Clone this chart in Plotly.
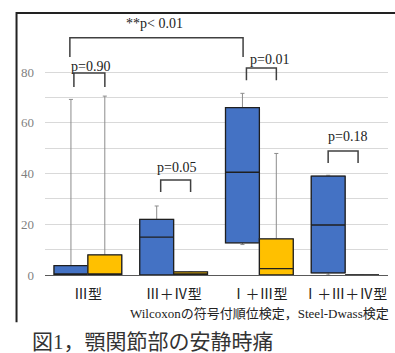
import plotly.graph_objects as go

categories = ["Ⅲ型", "Ⅲ＋Ⅳ型", "Ⅰ＋Ⅲ型", "Ⅰ＋Ⅲ＋Ⅳ型"]
# series A (blue)
a_min = [0, 0, 12, 0]
a_q1 = [0, 0, 12.7, 0.8]
a_med = [0, 14.9, 40.5, 19.7]
a_q3 = [3.7, 21.9, 66, 39]
a_max = [69.2, 27.2, 71.6, 39.3]
# series B (yellow)
b_min = [0, 0, 0, 0]
b_q1 = [0, 0, 0, 0]
b_med = [0, 0, 2.5, 0]
b_q3 = [7.9, 1.2, 14.2, 0]
b_max = [70.5, 0.3, 47.9, 0.2]

# significance brackets: (x0, x1, top, leg, text, text_x, text_y)
brackets = [
    (-0.21, 1.81, 93.5, 85.9, "**p< 0.01", 0.78, 99.3),
    (-0.163, 0.198, 79.6, 74.1, "p=0.90", 0.035, 82.2),
    (0.849, 1.198, 37.4, 32.7, "p=0.05", 1.035, 42.2),
    (1.849, 2.198, 81.6, 76.8, "p=0.01", 2.116, 85.1),
    (2.802, 3.151, 48.9, 44.1, "p=0.18", 3.023, 54.4),
]

serif = "Liberation Serif, Times New Roman, Noto Sans CJK JP, serif"

fig = go.Figure()


def add_series(q1, med, q3, lo, hi, color, group):
    # whiskers (gray)
    fig.add_trace(go.Box(
        x=categories, q1=q1, median=med, q3=q3, lowerfence=lo, upperfence=hi,
        offsetgroup=group, fillcolor="rgba(0,0,0,0)",
        line=dict(color="#8c8c8c", width=1), whiskerwidth=0.12,
        boxpoints=False, showlegend=False, hoverinfo="skip"))
    # box body
    fig.add_trace(go.Box(
        x=categories, q1=q1, median=med, q3=q3, lowerfence=q1, upperfence=q3,
        offsetgroup=group, fillcolor=color,
        line=dict(color="#1f1f1f", width=1.3), whiskerwidth=0,
        boxpoints=False, showlegend=False))


add_series(a_q1, a_med, a_q3, a_min, a_max, "#4472C4", "A")
add_series(b_q1, b_med, b_q3, b_min, b_max, "#FFC000", "B")

shapes = []
for x0, x1, top, leg, txt, tx, ty in brackets:
    shapes.append(dict(type="path", xref="x", yref="y",
                       path=f"M {x0},{leg} L {x0},{top} L {x1},{top} L {x1},{leg}",
                       line=dict(color="#404040", width=1.5)))
    fig.add_annotation(x=tx, y=ty, xref="x", yref="y", text=txt, showarrow=False,
                       font=dict(family=serif, size=14, color="#222"))

# frame: rectangle whose right and bottom edges lie outside the canvas
shapes.append(dict(type="rect", xref="paper", yref="paper",
                   x0=-0.083, x1=1.3, y0=-0.2, y1=1.027,
                   line=dict(color="#222", width=2)))
# hide the frame's bottom edge (white strip over it)
shapes.append(dict(type="rect", xref="paper", yref="paper",
                   x0=-0.2, x1=1.4, y0=-0.215, y1=-0.185,
                   line=dict(width=0), fillcolor="white"))

fig.add_annotation(xref="paper", yref="paper", x=1.01, y=-38 / 255, xanchor="right",
                   yanchor="middle", showarrow=False,
                   text="Wilcoxonの符号付順位検定，Steel-Dwass検定",
                   font=dict(family=serif, size=13, color="#222"))
fig.add_annotation(xref="paper", yref="paper", x=-15 / 343, y=-67 / 255, xanchor="left",
                   yanchor="middle", showarrow=False,
                   text="図1，顎関節部の安静時痛",
                   font=dict(family="Liberation Serif, Noto Sans CJK JP", size=21, color="#333"))

fig.update_layout(
    width=395, height=353,
    margin=dict(l=45, r=7, t=20, b=78),
    paper_bgcolor="white", plot_bgcolor="white",
    boxmode="group", boxgap=0.21, boxgroupgap=0,
    shapes=shapes,
    xaxis=dict(type="category", showgrid=False, showline=True, linecolor="#595959",
               linewidth=1.2, ticks="", tickfont=dict(family=serif, size=14, color="#222"),
               ticklabelstandoff=6),
    yaxis=dict(range=[0, 100.5], tickvals=[0, 20, 40, 60, 80], showgrid=True,
               gridcolor="#d9d9d9", gridwidth=1, zeroline=False, showline=False,
               tickfont=dict(family=serif, size=13, color="#7f7f7f"), ticks="",
               ticklabelstandoff=10,
               minor=dict(tickvals=[10, 30, 50, 70], showgrid=True, gridcolor="#d9d9d9")),
)

fig.write_html("out.html", config={"displayModeBar": False},
               post_script="document.body.style.margin='0';document.body.style.overflow='hidden';")
